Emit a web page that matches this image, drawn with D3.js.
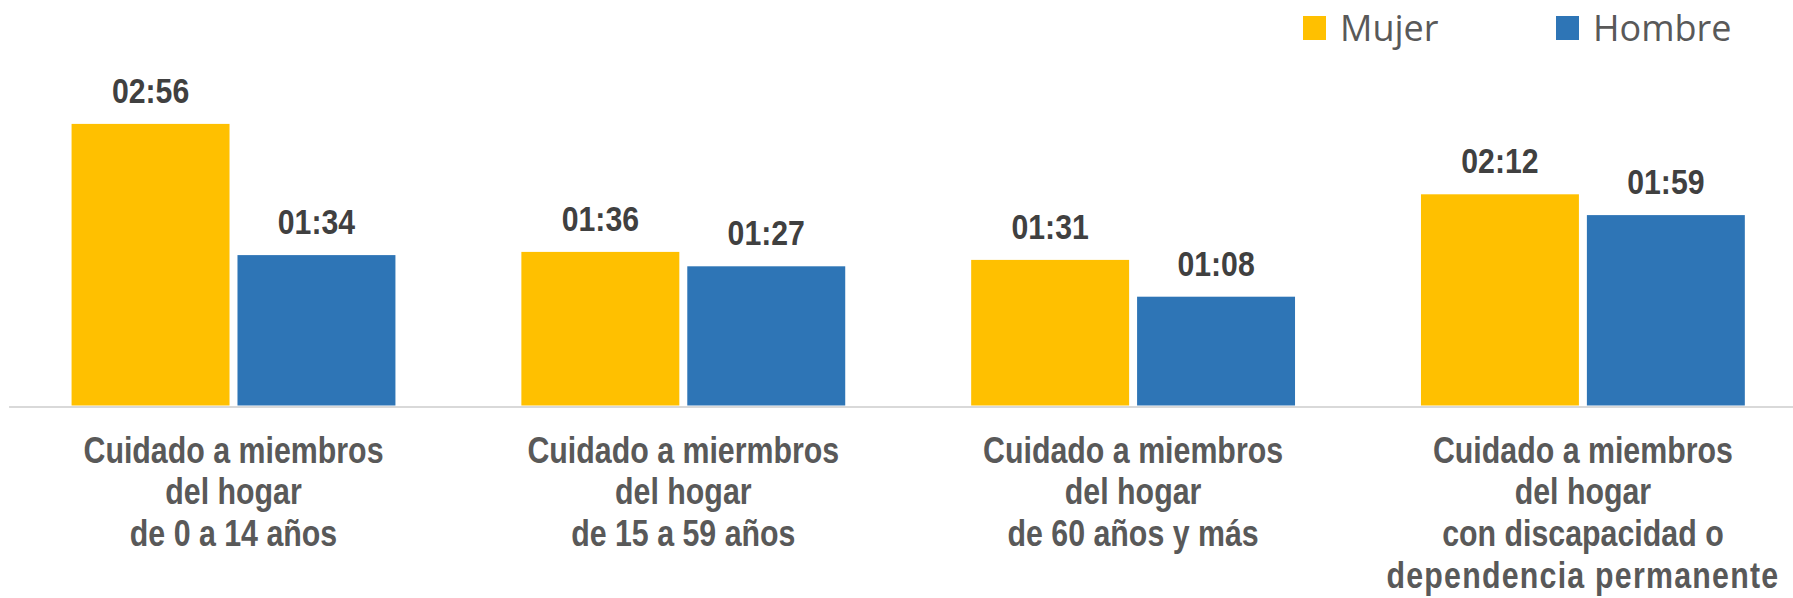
<!DOCTYPE html>
<html>
<head>
<meta charset="utf-8">
<script src="https://cdn.jsdelivr.net/npm/d3@7"></script>
<style>
    html, body { margin: 0; padding: 0; background: #fff; }
    svg { display: block; }
</style>
</head>
<body>
<div id="chart"></div>
<script>
// categories, one array of lines per label
var categories = [
    ['Cuidado a miembros', 'del hogar', 'de 0 a 14 años'],
    ['Cuidado a miermbros', 'del hogar', 'de 15 a 59 años'],
    ['Cuidado a miembros', 'del hogar', 'de 60 años y más'],
    ['Cuidado a miembros', 'del hogar', 'con discapacidad o', 'dependencia permanente']
];
var seriesNames = ['Mujer', 'Hombre'];
var seriesColors = ['#FFC000', '#2E75B6'];
// minutes
var mujer = [176, 96, 91, 132];
var hombre = [94, 87, 68, 119];

var width = 1793,
    height = 598;

var svg = d3.select('#chart').append('svg')
    .attr('width', width)
    .attr('height', height);

var keys = categories.map(function (c, i) { return 'c' + i; });

var x0 = d3.scaleBand()
    .domain(keys)
    .range([8.6, 1807.8])
    .paddingInner(0.28)
    .paddingOuter(0.14);

var x1 = d3.scaleBand()
    .domain(seriesNames)
    .range([0, x0.bandwidth()])
    .paddingInner(0.048);

var y = d3.scaleLinear()
    .domain([0, 200])
    .range([405.5, 85.5]);

var fmt = function (m) {
    return d3.format('02d')(Math.floor(m / 60)) + ':' + d3.format('02d')(m % 60);
};

var rows = keys.map(function (k, i) {
    return {key: k, values: [mujer[i], hombre[i]]};
});

var groups = svg.append('g').selectAll('g')
    .data(rows)
    .enter().append('g')
    .attr('transform', function (d) { return 'translate(' + x0(d.key) + ',0)'; });

groups.selectAll('rect')
    .data(function (d) { return d.values.map(function (v, j) { return {name: seriesNames[j], v: v, j: j}; }); })
    .enter().append('rect')
    .attr('x', function (d) { return x1(d.name); })
    .attr('y', function (d) { return y(d.v); })
    .attr('width', x1.bandwidth())
    .attr('height', function (d) { return y(0) - y(d.v); })
    .attr('fill', function (d) { return seriesColors[d.j]; });

// no narrow font installed, so Liberation Sans gets squeezed
groups.selectAll('text.val')
    .data(function (d) { return d.values.map(function (v, j) { return {name: seriesNames[j], v: v}; }); })
    .enter().append('text')
    .attr('class', 'val')
    .attr('transform', function (d) {
        return 'translate(' + (x1(d.name) + x1.bandwidth() / 2) + ',' + (y(d.v) - 21) + ') scale(0.84,1)';
    })
    .attr('text-anchor', 'middle')
    .style('font-family', '"Liberation Sans Narrow", "Liberation Sans", Arial, sans-serif')
    .style('font-weight', 'bold')
    .style('font-size', '36px')
    .style('fill', '#404040')
    .text(function (d) { return fmt(d.v); });

// x axis
var xAxis = svg.append('g')
    .attr('transform', 'translate(0,' + y(0) + ')')
    .call(d3.axisBottom(x0).tickSize(0).tickFormat(''));

xAxis.select('.domain')
    .attr('stroke', '#D9D9D9')
    .attr('stroke-width', 2)
    .attr('transform', 'translate(0,1)');

xAxis.selectAll('.tick text').remove();
xAxis.selectAll('.tick').each(function (k, i) {
    var t = d3.select(this).append('text')
        .attr('transform', 'translate(0,57) scale(0.82,1)')
        .attr('text-anchor', 'middle')
        .style('font-family', '"Liberation Sans Narrow", "Liberation Sans", Arial, sans-serif')
        .style('font-weight', 'bold')
        .style('font-size', '37px')
        .style('fill', '#595959');
    categories[i].forEach(function (line, n) {
        t.append('tspan')
            .attr('x', 0)
            .attr('dy', n === 0 ? 0 : 42)
            // the long last line is spaced out a bit wider in the original
            .style('letter-spacing', line.length > 20 ? '1.5px' : null)
            .text(line);
    });
});

// legend
var legendX = [1303, 1556];
var legend = svg.append('g').selectAll('g')
    .data(seriesNames)
    .enter().append('g')
    .attr('transform', function (d, i) { return 'translate(' + legendX[i] + ',16)'; });

legend.append('rect')
    .attr('width', 23)
    .attr('height', 24)
    .attr('fill', function (d, i) { return seriesColors[i]; });

legend.append('text')
    .attr('x', 37)
    .attr('y', 25)
    .style('font-family', '"Open Sans", "Noto Sans", sans-serif')
    .style('font-size', '36px')
    .style('fill', '#595959')
    .text(function (d) { return d; });
</script>
</body>
</html>
